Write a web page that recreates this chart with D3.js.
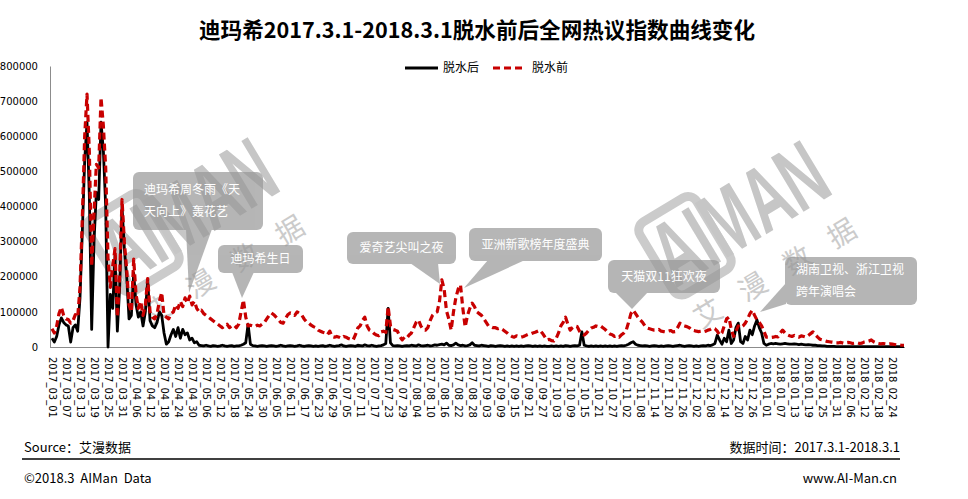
<!DOCTYPE html>
<html><head><meta charset="utf-8">
<script src="https://cdn.jsdelivr.net/npm/d3@7"></script>
<style>body{margin:0;background:#fff}svg{display:block}</style>
</head><body><svg id="c" width="968" height="499"></svg>
<script>
const title = "迪玛希2017.3.1-2018.3.1脱水前后全网热议指数曲线变化";
const seriesNames = ["脱水后", "脱水前"];
const startDay = "2017-03-01";
const endDay = "2018-03-01";
const tickEvery = 6;
const yTicks = [0, 100000, 200000, 300000, 400000, 500000, 600000, 700000, 800000];

// 脱水后 (after dehydration)
const afterValues = [
25000,14000,30000,63000,83000,70000,63000,60000,14000,55000,
63000,45000,140000,330000,530000,640000,430000,50000,300000,440000,
420000,640000,560000,400000,0,150000,110000,260000,45000,170000,
400000,280000,200000,80000,90000,210000,120000,85000,100000,60000,
100000,190000,75000,60000,55000,70000,100000,90000,40000,8000,
15000,35000,50000,30000,55000,25000,50000,35000,40000,20000,
25000,12000,15000,5000,4000,3000,5000,3000,2000,4000,
3000,2000,3000,5000,3000,2000,3000,4000,2000,3000,
3000,5000,8000,12000,65000,8000,4000,3000,2000,3000,
4000,3000,2000,3000,4000,3000,2000,3000,5000,3000,
2000,3000,4000,3000,2000,3000,5000,3000,2000,3000,
4000,3000,2000,3000,2000,3000,4000,2000,3000,5000,
3000,2000,3000,4000,6000,3000,2000,3000,4000,3000,
2000,5000,4000,3000,6000,4000,3000,5000,3000,2000,
3000,4000,6000,10000,110000,12000,4000,3000,4000,3000,
2000,3000,4000,3000,5000,4000,3000,6000,4000,3000,
4000,5000,3000,4000,6000,5000,7000,8000,6000,11000,
5000,4000,6000,11000,6000,4000,5000,3000,4000,6000,
12000,5000,4000,3000,5000,4000,3000,2000,4000,3000,
2000,3000,4000,3000,2000,3000,2000,3000,2000,3000,
2000,3000,2000,3000,4000,3000,2000,3000,2000,3000,
2000,3000,2000,2000,3000,2000,3000,2000,3000,2000,
4000,3000,2000,3000,4000,3000,5000,43000,5000,3000,
2000,3000,2000,3000,2000,3000,2000,3000,2000,3000,
2000,3000,2000,3000,4000,3000,5000,8000,12000,15000,
8000,5000,4000,3000,4000,3000,2000,3000,4000,3000,
2000,3000,2000,3000,4000,3000,2000,3000,4000,5000,
3000,2000,3000,4000,3000,2000,3000,2000,3000,4000,
3000,5000,4000,6000,10000,34000,20000,8000,25000,15000,
48000,10000,20000,55000,68000,15000,10000,30000,20000,48000,
35000,60000,77000,55000,40000,10000,5000,8000,10000,9000,
10000,9000,8000,9000,10000,9000,8000,8000,9000,8000,
7000,8000,7000,6000,7000,6000,5000,5000,4000,4000,
3000,3000,2000,2000,2000,2000,1000,1000,1000,1000,
1000,1000,1000,1000,1000,1000,1000,1000,1000,1000,
1000,1000,1000,1000,1000,1000,1000,1000,1000,1000,
1000,1000,1000,1000,1000,1000
];

// 脱水前 (before dehydration)
const beforeValues = [
52000,40000,60000,95000,113000,90000,80000,78000,68000,75000,
92000,85000,170000,370000,600000,720000,555000,230000,380000,520000,
510000,710000,630000,510000,250000,170000,230000,280000,85000,200000,
420000,300000,220000,120000,100000,250000,150000,110000,130000,90000,
120000,195000,100000,85000,80000,95000,130000,155000,90000,85000,
80000,95000,100000,120000,110000,130000,115000,140000,125000,145000,
120000,130000,110000,100000,105000,95000,90000,85000,80000,75000,
70000,65000,60000,55000,60000,65000,55000,60000,62000,55000,
65000,100000,134000,85000,60000,62000,60000,58000,62000,60000,
65000,70000,80000,90000,97000,92000,85000,78000,70000,68000,
80000,92000,97000,95000,90000,100000,96000,91000,80000,72000,
68000,62000,58000,55000,48000,45000,42000,40000,35000,45000,
30000,28000,30000,28000,25000,30000,28000,24000,22000,20000,
35000,54000,60000,75000,85000,60000,48000,45000,38000,34000,
32000,43000,45000,42000,115000,60000,50000,48000,45000,30000,
20000,28000,25000,34000,40000,55000,70000,77000,60000,50000,
48000,55000,75000,90000,97000,100000,130000,191000,165000,103000,
80000,48000,100000,140000,165000,177000,110000,57000,90000,110000,
125000,115000,100000,95000,90000,80000,70000,60000,58000,55000,
55000,52000,54000,50000,45000,40000,34000,30000,28000,32000,
30000,28000,30000,33000,36000,37000,40000,42000,45000,48000,
40000,30000,20000,22000,18000,17000,25000,40000,60000,70000,
85000,65000,48000,55000,60000,58000,45000,37000,34000,40000,
48000,54000,56000,60000,58000,60000,55000,50000,42000,37000,
35000,30000,32000,28000,35000,40000,48000,70000,95000,105000,
95000,85000,77000,70000,60000,54000,52000,50000,48000,48000,
50000,45000,44000,43000,45000,47000,43000,44000,55000,68000,
62000,60000,58000,55000,48000,47000,45000,44000,45000,43000,
45000,48000,50000,54000,52000,45000,34000,40000,60000,80000,
85000,50000,30000,45000,60000,55000,60000,68000,80000,95000,
105000,90000,77000,70000,60000,45000,28000,28000,27000,28000,
30000,29000,40000,48000,40000,35000,32000,30000,33000,30000,
28000,32000,30000,28000,33000,38000,43000,35000,28000,22000,
20000,18000,16000,15000,14000,13000,12000,12000,13000,11000,
12000,13000,12000,10000,11000,12000,10000,11000,14000,15000,
17000,20000,15000,12000,10000,9000,10000,9000,8000,9000,
8000,7000,6000,6000,5000,5000
];

const callouts = [
  {lines: ["迪玛希周冬雨《天", "天向上》轰花艺"]},
  {lines: ["迪玛希生日"]},
  {lines: ["爱奇艺尖叫之夜"]},
  {lines: ["亚洲新歌榜年度盛典"]},
  {lines: ["天猫双11狂欢夜"]},
  {lines: ["湖南卫视、浙江卫视", "跨年演唱会"]}
];
const sourceText = "Source：艾漫数据";
const periodText = "数据时间：2017.3.1-2018.3.1";
const copyText = "©2018.3  AIMan  Data";
const siteText = "www.AI-Man.cn";
const watermarkText = "AIMAN";
const watermarkSub = ["艾", "漫", "数", "据"];

// ---------- layout ----------
const svg = d3.select("#c");
const parse = d3.timeParse("%Y-%m-%d");
const days = d3.timeDays(parse(startDay), d3.timeDay.offset(parse(endDay), 1));
const fmtDay = d3.timeFormat("%Y_%m_%d");
const n = beforeValues.length;

const x = d3.scaleLinear().domain([0, n - 1]).range([52, 904]);
const y = d3.scaleLinear().domain([0, 800000]).range([347, 66]);

const CJK = "'Noto Sans CJK SC','Noto Sans',sans-serif";
const LAT = "'DejaVu Sans',sans-serif";

// title
svg.append("text").attr("x", 477).attr("y", 38).attr("text-anchor", "middle")
  .style("font-family", CJK).style("font-weight", "bold").style("font-size", "21.6px")
  .attr("fill", "#000").text(title);

// watermarks
const marks = [{cx: 188, cy: 212}, {cx: 740, cy: 215}];
marks.forEach(m => {
  const g = svg.append("g").attr("transform", `translate(${m.cx},${m.cy}) rotate(-31)`);
  g.append("rect").attr("x", -96).attr("y", -44).attr("width", 66).attr("height", 84)
    .attr("rx", 10).attr("fill", "none").attr("stroke", "#cbcbcb").attr("stroke-width", 9);
  g.append("text").attr("x", 0).attr("y", 30).attr("text-anchor", "middle")
    .attr("transform", "scale(0.62,1)")
    .style("font-family", "'Liberation Sans',Arial,sans-serif").style("font-weight", "bold")
    .style("font-size", "92px").attr("fill", "#c6c6c6").text(watermarkText);
  watermarkSub.forEach((ch, i) => {
    g.append("text").attr("x", -78 + i * 52).attr("y", 78).attr("text-anchor", "middle")
      .style("font-family", CJK).style("font-size", "28px").attr("fill", "#cbcbcb").text(ch);
  });
});

// axes
const yAxis = svg.append("g").attr("transform", "translate(50,0)")
  .call(d3.axisLeft(y).tickValues(yTicks).tickSize(0).tickPadding(12).tickFormat(d3.format("d")));
yAxis.select(".domain").attr("stroke", "#8c8c8c");
yAxis.selectAll("text").style("font-family", LAT).style("font-size", "10px").attr("fill", "#000");

const tickIdx = d3.range(0, n, tickEvery);
const xAxis = svg.append("g").attr("transform", "translate(0,347)")
  .call(d3.axisBottom(x).tickValues(tickIdx).tickSize(0).tickFormat(i => fmtDay(days[i])));
xAxis.select(".domain").attr("d", "M50,0.5H905").attr("stroke", "#8c8c8c");
xAxis.selectAll("text")
  .attr("y", 0).attr("x", 10).attr("dy", "0.35em")
  .attr("transform", "rotate(90)").style("text-anchor", "start")
  .style("font-family", LAT).style("font-size", "10px").attr("fill", "#000");

// lines
const line = d3.line().x((d, i) => x(i)).y(d => y(d));
svg.append("path").datum(afterValues).attr("d", line)
  .attr("fill", "none").attr("stroke", "#000").attr("stroke-width", 2.8).attr("stroke-linejoin", "round");
svg.append("path").datum(beforeValues).attr("d", line)
  .attr("fill", "none").attr("stroke", "#c80000").attr("stroke-width", 3.2)
  .attr("stroke-dasharray", "7,4").attr("stroke-linejoin", "round");

// legend
const lg = svg.append("g");
lg.append("line").attr("x1", 405).attr("x2", 438).attr("y1", 68).attr("y2", 68)
  .attr("stroke", "#000").attr("stroke-width", 3);
lg.append("text").attr("x", 443).attr("y", 68).attr("dy", "0.35em")
  .style("font-family", CJK).style("font-size", "12px").text(seriesNames[0]);
lg.append("line").attr("x1", 493).attr("x2", 526).attr("y1", 68).attr("y2", 68)
  .attr("stroke", "#c80000").attr("stroke-width", 3).attr("stroke-dasharray", "7,4");
lg.append("text").attr("x", 532).attr("y", 68).attr("dy", "0.35em")
  .style("font-family", CJK).style("font-size", "12px").text(seriesNames[1]);

// callouts
const calloutLayout = [
  {x: 133, y: 172, w: 130, h: 58, align: "start", tail: [[186, 229], [212, 229], [189, 293]]},
  {x: 218, y: 245, w: 85, h: 28, align: "middle", tail: [[232, 272], [254, 272], [242, 298]]},
  {x: 347, y: 232, w: 109, h: 32, align: "middle", tail: [[410, 263], [438, 263], [440, 284]]},
  {x: 469, y: 228, w: 133, h: 33, align: "middle", tail: [[488, 260], [525, 260], [464, 288]]},
  {x: 608, y: 260, w: 112, h: 33, align: "middle", tail: [[615, 292], [648, 292], [632, 309]]},
  {x: 785, y: 257, w: 132, h: 48, align: "start", tail: [[786, 283], [786, 304], [760, 312]]}
];
callouts.forEach((c, k) => {
  const L = calloutLayout[k];
  const g = svg.append("g").attr("opacity", 0.7);
  g.append("rect").attr("x", L.x).attr("y", L.y).attr("width", L.w).attr("height", L.h)
    .attr("rx", 6).attr("fill", "#979797");
  g.append("path").attr("d", "M" + L.tail.join("L") + "Z").attr("fill", "#979797");
  const lh = 22;
  const y0 = L.y + L.h / 2 - (c.lines.length - 1) * lh / 2;
  c.lines.forEach((t, j) => {
    svg.append("text")
      .attr("x", L.align === "start" ? L.x + 11 : L.x + L.w / 2)
      .attr("y", y0 + j * lh).attr("dy", "0.35em").attr("text-anchor", L.align)
      .style("font-family", CJK).style("font-size", "12px").attr("fill", "#fff").text(t);
  });
});

// footer
const ft = {fontFamily: CJK, size: "13px"};
svg.append("text").attr("x", 24).attr("y", 447).attr("dy", "0.35em")
  .style("font-family", ft.fontFamily).style("font-size", ft.size).text(sourceText);
svg.append("text").attr("x", 900).attr("y", 447).attr("dy", "0.35em").attr("text-anchor", "end")
  .style("font-family", ft.fontFamily).style("font-size", ft.size).text(periodText);
svg.append("line").attr("x1", 22).attr("x2", 900).attr("y1", 459).attr("y2", 459)
  .attr("stroke", "#000").attr("stroke-width", 1.5);
svg.append("text").attr("x", 24).attr("y", 478).attr("dy", "0.35em")
  .style("font-family", ft.fontFamily).style("font-size", ft.size).style("white-space", "pre")
  .attr("xml:space", "preserve").text(copyText);
svg.append("text").attr("x", 897).attr("y", 478).attr("dy", "0.35em").attr("text-anchor", "end")
  .style("font-family", ft.fontFamily).style("font-size", ft.size).text(siteText);
</script></body></html>
